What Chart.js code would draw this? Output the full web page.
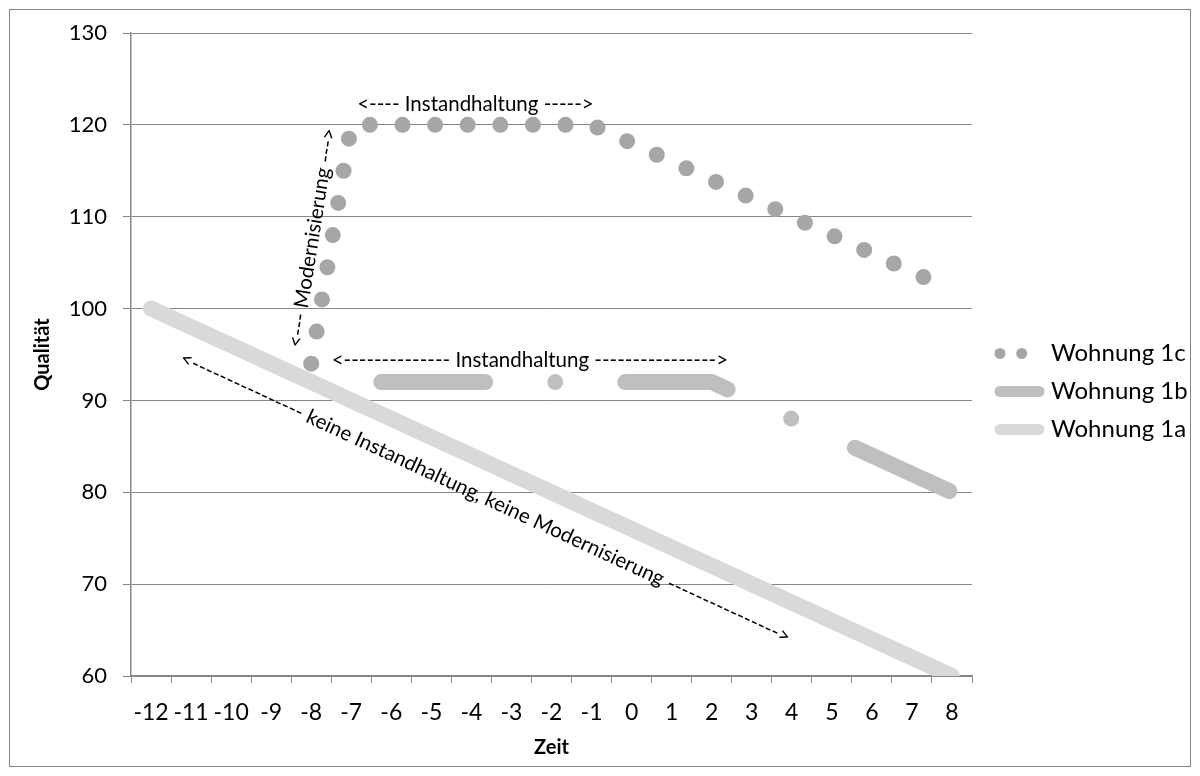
<!DOCTYPE html>
<html>
<head>
<meta charset="utf-8">
<script src="https://cdn.jsdelivr.net/npm/chart.js@4.4.0/dist/chart.umd.min.js"></script>
<style>
  html, body { margin: 0; padding: 0; background: #fff; }
  #wrap { width: 1200px; height: 776px; position: relative; }
</style>
</head>
<body>
<div id="wrap"><canvas id="grafico"></canvas></div>
<script>
// Zeitachse (Jahre relativ zur Modernisierung)
const jahre = ["-12", "-11", "-10", "-9", "-8", "-7", "-6", "-5", "-4", "-3", "-2",
               "-1", "0", "1", "2", "3", "4", "5", "6", "7", "8"];

// Qualität je Wohnung
const wohnung1a = [100, 98, 96, 94, 92, 90, 88, 86, 84, 82, 80,
                   78, 76, 74, 72, 70, 68, 66, 64, 62, 60];
const wohnung1b = [null, null, null, null, 92, 92, 92, 92, 92, 92, 92,
                   92, 92, 92, 92, 90, 88, 86, 84, 82, 80];
const wohnung1c = [null, null, null, null, 94, 120, 120, 120, 120, 120, 120,
                   120, 118, 116, 114, 112, 110, 108, 106, 104, 102];

const qualitaetMin = 60;
const qualitaetMax = 130;

// Beschriftungen im Diagramm: Text, Mitte (Jahr, Qualität), Winkel in Grad
const notizen = [
  { text: "<---- Instandhaltung ----->", jahr: -3.9, wert: 122.2, winkel: 0 },
  { text: "<-------------- Instandhaltung ---------------->", jahr: -2.54, wert: 94.4, winkel: 0 },
  { text: "<--- Modernisierung --->", jahr: -7.97, wert: 107.7, winkel: -81 },
  { text: "<---------------- keine Instandhaltung, keine Modernisierung ---------------->", jahr: -3.65, wert: 79.4, winkel: 24.8 }
];

const grau = "#868686";
const schrift = "Lato";

Chart.defaults.font.family = schrift;
Chart.defaults.color = "#000";

// Rahmen um das ganze Diagramm
const rahmen = {
  id: "rahmen",
  beforeDraw(chart) {
    const ctx = chart.ctx;
    ctx.save();
    ctx.strokeStyle = grau;
    ctx.lineWidth = 1;
    ctx.strokeRect(9.5, 9.5, chart.width - 19, chart.height - 19);
    ctx.restore();
  }
};

// Legende: feste Breite und etwas verschoben wie im Original
const legendePlatz = {
  id: "legendePlatz",
  beforeLayout(chart) {
    const lg = chart.legend;
    if (lg && !lg._breiteFix) {
      const fitOrig = lg.fit;
      lg.fit = function () {
        fitOrig.call(this);
        this.width = 228;
      };
      lg._breiteFix = true;
    }
  },
  afterLayout(chart) {
    const lg = chart.legend;
    if (!lg) return;
    lg.left += 14;
    lg.right += 14;
    lg.top -= 8;
    lg.bottom -= 8;
  }
};

// Texte mit Pfeilen
const pfeilTexte = {
  id: "pfeilTexte",
  afterDatasetsDraw(chart) {
    const ctx = chart.ctx;
    const x = chart.scales.x;
    const y = chart.scales.y;
    ctx.save();
    ctx.font = "20.5px " + schrift;
    ctx.fillStyle = "#000";
    ctx.textAlign = "center";
    ctx.textBaseline = "middle";
    notizen.forEach((n) => {
      const px = x.getPixelForValue(n.jahr + 12);
      const py = y.getPixelForValue(n.wert);
      ctx.save();
      ctx.translate(px, py);
      ctx.rotate(n.winkel * Math.PI / 180);
      ctx.fillText(n.text, 0, 0);
      ctx.restore();
    });
    ctx.restore();
  }
};

const legendeStrich = [[0, 21.7], [], []];

const ctx = document.getElementById("grafico");

new Chart(ctx, {
  type: "line",
  data: {
    labels: jahre,
    datasets: [
      {
        label: "Wohnung 1a",
        data: wohnung1a,
        borderColor: "#d9d9d9",
        backgroundColor: "#d9d9d9",
        borderWidth: 16,
        borderCapStyle: "round",
        borderJoinStyle: "round",
        pointRadius: 0,
        pointStyle: "line",
        clip: 0
      },
      {
        label: "Wohnung 1b",
        data: wohnung1b,
        borderColor: "#bfbfbf",
        backgroundColor: "#bfbfbf",
        borderWidth: 16,
        borderDash: [0, 70, 104, 70],
        borderCapStyle: "round",
        borderJoinStyle: "round",
        pointRadius: 0,
        pointStyle: "line",
        clip: 0
      },
      {
        label: "Wohnung 1c",
        data: wohnung1c,
        borderColor: "#a6a6a6",
        backgroundColor: "#a6a6a6",
        borderWidth: 16,
        borderDash: [0, 32.6],
        borderCapStyle: "round",
        borderJoinStyle: "round",
        pointRadius: 0,
        pointStyle: "line",
        clip: 0
      }
    ]
  },
  options: {
    responsive: true,
    maintainAspectRatio: false,
    animation: false,
    layout: { padding: { left: 10, top: 33, right: 0, bottom: 10 } },
    plugins: {
      tooltip: { enabled: false },
      legend: {
        position: "right",
        align: "center",
        reverse: true,
        labels: {
          usePointStyle: true,
          pointStyleWidth: 39,
          padding: 14,
          font: { size: 24 },
          color: "#000",
          generateLabels(chart) {
            const items = Chart.defaults.plugins.legend.labels.generateLabels(chart);
            items.forEach((it) => {
              it.pointStyle = "line";
              it.lineWidth = 11;
              it.lineCap = "round";
              it.lineDash = legendeStrich[2 - it.datasetIndex];
            });
            return items;
          }
        }
      }
    },
    scales: {
      x: {
        type: "category",
        offset: true,
        afterFit(axis) { axis.height = 90; },
        grid: {
          offset: true,
          drawOnChartArea: false,
          drawTicks: true,
          tickLength: 7,
          color: grau
        },
        border: { color: grau, width: 1.5 },
        ticks: {
          autoSkip: false,
          maxRotation: 0,
          padding: 16,
          font: { size: 23 },
          color: "#000"
        },
        title: {
          display: true,
          text: "Zeit",
          font: { size: 20, weight: "bold" },
          color: "#000",
          padding: { top: 0, bottom: 6 }
        }
      },
      y: {
        min: qualitaetMin,
        max: qualitaetMax,
        afterFit(axis) { axis.width = 121; },
        grid: {
          color: grau,
          lineWidth: 1,
          drawTicks: true,
          tickLength: 8
        },
        border: { color: grau, width: 1.5 },
        ticks: {
          stepSize: 10,
          padding: 16,
          font: { size: 22 },
          color: "#000"
        },
        title: {
          display: true,
          text: "Qualität",
          font: { size: 20, weight: "bold" },
          color: "#000",
          padding: { top: 21, bottom: 0 }
        }
      }
    }
  },
  plugins: [rahmen, legendePlatz, pfeilTexte]
});
</script>
</body>
</html>
